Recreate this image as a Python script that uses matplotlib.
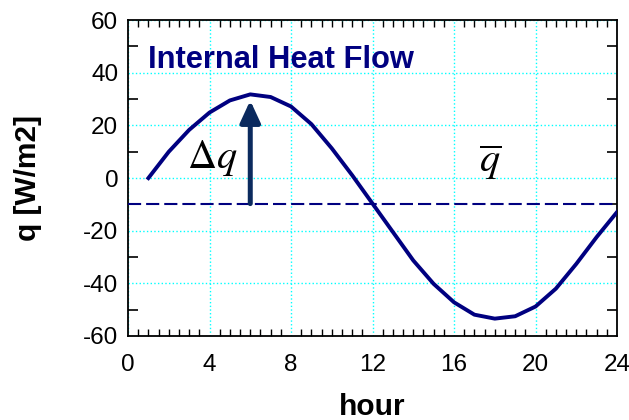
import matplotlib
matplotlib.use("Agg")
import matplotlib.pyplot as plt
from matplotlib.ticker import MultipleLocator

plt.rcParams["font.family"] = ["Liberation Sans", "DejaVu Sans"]
plt.rcParams["mathtext.fontset"] = "stix"
plt.rcParams["axes.unicode_minus"] = False

# hourly internal heat flow
hours = list(range(1, 25))
q = [0.0, 10.0, 18.3, 24.9, 29.5, 31.8, 30.8, 27.2, 20.5, 11.3, 1.1, -9.7,
     -20.5, -31.3, -40.2, -47.2, -51.9, -53.4, -52.5, -48.8, -42.0, -32.6, -22.4, -12.9]
q_mean = -9.7
arrow_hour = 6
arrow_top = 29.5

navy = "#000080"

fig = plt.figure(figsize=(6.29, 4.2), dpi=100)
ax = fig.add_axes([0.2035, 0.2, 0.7775, 0.752])

ax.plot(hours, q, color=navy, lw=2.8, zorder=3)
ax.plot([0, 24], [q_mean, q_mean], color=navy, lw=1.5, ls=(0, (6.3, 2.4)), zorder=3)
ax.annotate("", xy=(arrow_hour, arrow_top), xytext=(arrow_hour, q_mean),
            arrowprops=dict(arrowstyle="-|>,head_width=0.3,head_length=0.65",
                            mutation_scale=20, color="#0b2a5e", lw=3.6,
                            shrinkA=0, shrinkB=0),
            zorder=4)

ax.text(1.0, 44.8, "Internal Heat Flow", color=navy, fontsize=22.2,
        fontweight="bold", va="center", ha="left")
ax.text(4.15, 3.8, r"$\Delta q$", fontsize=29, ha="center", va="baseline")
ax.text(17.75, 2.3, r"$\overline{q}$", fontsize=29, ha="center", va="baseline")

ax.set_xlim(0, 24)
ax.set_ylim(-60, 60)
ax.xaxis.set_major_locator(MultipleLocator(4))
ax.xaxis.set_minor_locator(MultipleLocator(0.5))
ax.yaxis.set_major_locator(MultipleLocator(20))
ax.yaxis.set_minor_locator(MultipleLocator(10))

ax.tick_params(which="major", length=0, labelsize=17.5)
ax.tick_params(axis="x", which="major", pad=13)
ax.tick_params(axis="y", which="major", pad=7)
ax.tick_params(axis="x", which="minor", direction="in", length=5, width=1,
               top=True, bottom=True)
ax.tick_params(axis="y", which="minor", direction="in", length=7, width=1.2,
               left=True, right=True)

ax.grid(True, which="major", color="cyan", ls=":", lw=1)
for s in ax.spines.values():
    s.set_linewidth(1.3)

ax.set_xlabel("hour", fontsize=21.5, fontweight="bold")
ax.set_ylabel("q [W/m2]", fontsize=21.5, fontweight="bold")
ax.xaxis.set_label_coords(0.5, -0.18)
ax.yaxis.set_label_coords(-0.176, 0.5)

fig.savefig("out.png", dpi=100)
